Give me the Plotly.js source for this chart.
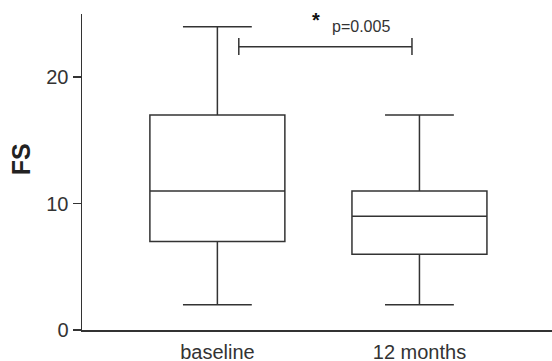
<!DOCTYPE html>
<html>
<head>
<meta charset="utf-8">
<script src="https://cdn.plot.ly/plotly-3.0.1.min.js"></script>
<style>html,body{margin:0;padding:0;background:#fff;}#chart{width:552px;height:361px;}</style>
</head>
<body>
<div id="chart"></div>
<script>
var categories = ["baseline", "12 months"];
var lowerFence = [2, 2];
var q1 = [7, 6];
var median = [11, 9];
var q3 = [17, 11];
var upperFence = [24, 17];
var yTicks = [0, 10, 20];
var yTitle = "FS";
var sigLabel = "p=0.005";

var lineColor = "#333333";
var traces = [{
  type: "box",
  x: categories,
  q1: q1,
  median: median,
  q3: q3,
  lowerfence: lowerFence,
  upperfence: upperFence,
  boxpoints: false,
  width: 0.668,
  whiskerwidth: 0.51,
  fillcolor: "rgba(0,0,0,0)",
  line: {color: lineColor, width: 1.5},
  hoverinfo: "skip",
  showlegend: false
}];

var layout = {
  width: 552, height: 361,
  margin: {l: 82, r: 0, t: 14, b: 31},
  paper_bgcolor: "#fff", plot_bgcolor: "#fff",
  font: {family: "Liberation Sans, Arial, sans-serif", color: "#333"},
  xaxis: {
    type: "category",
    range: [-0.67, 1.656],
    showline: true, linecolor: lineColor, linewidth: 1.5,
    ticks: "", showgrid: false, zeroline: false,
    tickfont: {size: 20, color: "#333"},
    ticklabelstandoff: 3,
    fixedrange: true
  },
  yaxis: {
    range: [0, 25],
    tickvals: yTicks,
    ticktext: yTicks.map(String),
    showline: true, linecolor: lineColor, linewidth: 1.5,
    ticks: "outside", ticklen: 8, tickwidth: 1.5, tickcolor: lineColor,
    tickfont: {size: 20, color: "#333"},
    showgrid: false, zeroline: false,
    fixedrange: true
  },
  shapes: [
    {type: "line", xref: "x", yref: "y", x0: 0.106, x1: 0.963, y0: 22.4, y1: 22.4, line: {color: lineColor, width: 1.5}},
    {type: "line", xref: "x", yref: "y", x0: 0.106, x1: 0.106, y0: 21.75, y1: 23.1, line: {color: lineColor, width: 1.5}},
    {type: "line", xref: "x", yref: "y", x0: 0.963, x1: 0.963, y0: 21.75, y1: 23.1, line: {color: lineColor, width: 1.5}}
  ],
  annotations: [
    {xref: "paper", yref: "paper", x: -0.128, y: 0.54, xanchor: "center", yanchor: "middle", text: "<b>" + yTitle + "</b>", textangle: -90, showarrow: false, font: {size: 25, color: "#222"}},
    {xref: "x", yref: "y", x: 0.49, y: 24.55, text: "<b>*</b>", showarrow: false, font: {size: 20, color: "#111"}},
    {xref: "x", yref: "y", x: 0.555, y: 24.05, xanchor: "left", text: sigLabel, showarrow: false, font: {size: 16, color: "#333"}}
  ]
};

Plotly.newPlot("chart", traces, layout, {displayModeBar: false, staticPlot: true});
</script>
</body>
</html>
